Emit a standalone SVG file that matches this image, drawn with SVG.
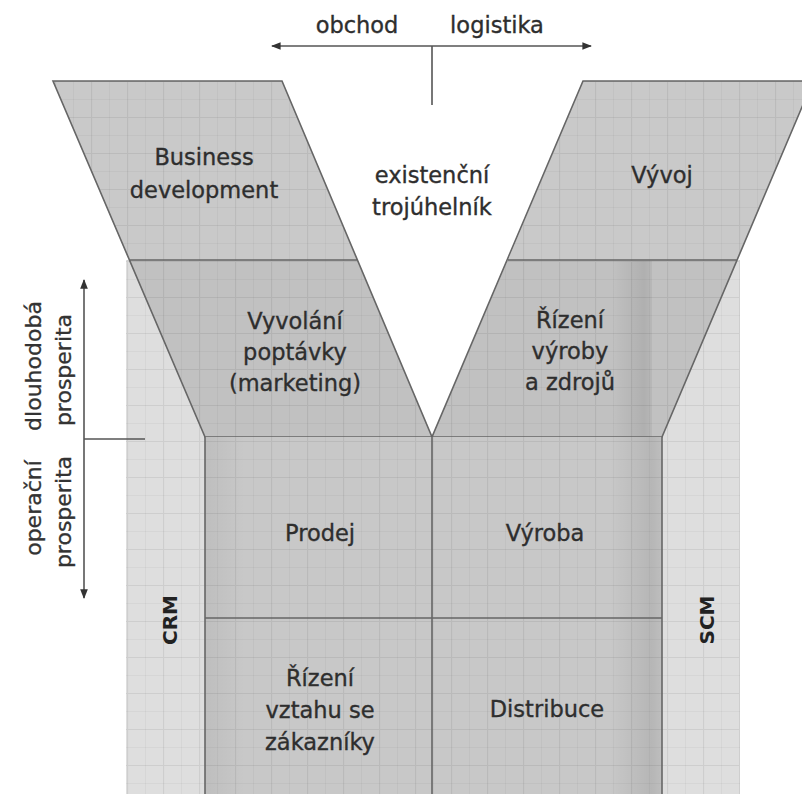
<svg xmlns="http://www.w3.org/2000/svg" width="802" height="794" viewBox="0 0 802 794">
  <defs>
    <style>
      .lbl { font-family: "DejaVu Sans", Verdana, sans-serif; font-size: 22.5px; fill: #2e2e2e; stroke: #2e2e2e; stroke-width: 0.35; text-anchor: middle; }
      .side { font-family: "DejaVu Sans", Verdana, sans-serif; font-size: 22px; fill: #333; stroke: #333; stroke-width: 0.3; text-anchor: middle; }
      .tag { font-family: "DejaVu Sans", Verdana, sans-serif; font-size: 20px; font-weight: bold; fill: #222; text-anchor: middle; }
      .edge { stroke: #666; stroke-width: 1.6; fill: none; }
      .band1 { fill: #c9c9c9; }
      .band2 { fill: #c1c1c1; }
      .cell { fill: #c8c8c8; }
      .conn { stroke: #555; stroke-width: 1.6; fill: none; }
    </style>
    <pattern id="grid" patternUnits="userSpaceOnUse" x="127" y="9" width="36" height="36">
      <path d="M0 0.5H36M0.5 0V36" stroke="#000" stroke-opacity="0.07" stroke-width="1.2" fill="none"/>
      <path d="M0 18.5H36M18.5 0V36" stroke="#000" stroke-opacity="0.035" stroke-width="1" fill="none"/>
    </pattern>
    <linearGradient id="shadeR" x1="0" y1="0" x2="1" y2="0">
      <stop offset="0" stop-color="#000" stop-opacity="0"/>
      <stop offset="0.8" stop-color="#000" stop-opacity="0.09"/>
      <stop offset="1" stop-color="#000" stop-opacity="0.05"/>
    </linearGradient>
    <linearGradient id="shadeL" x1="0" y1="0" x2="1" y2="0">
      <stop offset="0" stop-color="#000" stop-opacity="0.05"/>
      <stop offset="1" stop-color="#000" stop-opacity="0"/>
    </linearGradient>
    <marker id="tip" viewBox="0 0 10 10" refX="9" refY="5" markerWidth="6" markerHeight="6" orient="auto-start-reverse">
      <path d="M0 1L10 5L0 9z" fill="#333"/>
    </marker>
  </defs>

  <rect width="802" height="794" fill="#fff"/>

  <!-- light backdrop behind the lower part, leaving the V gap open -->
  <g id="backdrop">
    <path d="M126 260H357L432 437L508 260H740V794H126Z" fill="#dedede"/>
    <path d="M126 260H357L432 437L508 260H740V794H126Z" fill="url(#grid)"/>
  </g>

  <!-- left arm of the V -->
  <g id="business-development">
    <path class="band1" d="M53 81H282L357 260H129Z"/>
    <path d="M53 81H282L357 260H129Z" fill="url(#grid)"/>
    <text class="lbl" x="204" y="165">Business</text>
    <text class="lbl" x="204" y="198">development</text>
  </g>
  <g id="vyvolani-poptavky">
    <path class="band2" d="M129 260H357L432 437H205Z"/>
    <path d="M129 260H357L432 437H205Z" fill="url(#grid)"/>
    <text class="lbl" x="295" y="329">Vyvolání</text>
    <text class="lbl" x="295" y="360">poptávky</text>
    <text class="lbl" x="295" y="391">(marketing)</text>
  </g>
  <path class="edge" d="M53 81H282L432 437H205Z M129 260H357"/>

  <!-- right arm of the V (runs off the right border) -->
  <g id="vyvoj">
    <path class="band1" d="M583 81H813L737 260H508Z"/>
    <path d="M583 81H813L737 260H508Z" fill="url(#grid)"/>
    <text class="lbl" x="662" y="183">Vývoj</text>
  </g>
  <g id="rizeni-vyroby">
    <path class="band2" d="M508 260H737L662 437H432Z"/>
    <path d="M508 260H737L662 437H432Z" fill="url(#grid)"/>
    <rect x="612" y="261" width="40" height="176" fill="url(#shadeR)"/>
    <text class="lbl" x="570" y="328">Řízení</text>
    <text class="lbl" x="570" y="359">výroby</text>
    <text class="lbl" x="570" y="390">a zdrojů</text>
  </g>
  <path class="edge" d="M583 81H813L662 437H432Z M508 260H737"/>

  <text class="lbl" x="432" y="183">existenční</text>
  <text class="lbl" x="432" y="215">trojúhelník</text>

  <!-- lower block -->
  <g id="prodej">
    <rect class="cell" x="205" y="437" width="227" height="181"/>
    <rect x="205" y="437" width="227" height="181" fill="url(#grid)"/>
    <rect x="205" y="437" width="40" height="181" fill="url(#shadeL)"/>
    <text class="lbl" x="320" y="541">Prodej</text>
  </g>
  <g id="vyroba">
    <rect class="cell" x="432" y="437" width="230" height="181"/>
    <rect x="432" y="437" width="230" height="181" fill="url(#grid)"/>
    <rect x="610" y="437" width="52" height="181" fill="url(#shadeR)"/>
    <text class="lbl" x="545" y="541">Výroba</text>
  </g>
  <g id="rizeni-vztahu">
    <rect class="cell" x="205" y="618" width="227" height="180"/>
    <rect x="205" y="618" width="227" height="180" fill="url(#grid)"/>
    <rect x="205" y="618" width="40" height="180" fill="url(#shadeL)"/>
    <text class="lbl" x="320" y="686">Řízení</text>
    <text class="lbl" x="320" y="718">vztahu se</text>
    <text class="lbl" x="320" y="750">zákazníky</text>
  </g>
  <g id="distribuce">
    <rect class="cell" x="432" y="618" width="230" height="180"/>
    <rect x="432" y="618" width="230" height="180" fill="url(#grid)"/>
    <rect x="610" y="618" width="52" height="180" fill="url(#shadeR)"/>
    <text class="lbl" x="547" y="717">Distribuce</text>
  </g>
  <path class="edge" d="M205 437V798M662 437V798M432 437V798M205 618H662"/>

  <g id="crm">
    <text class="tag" transform="translate(177 620) rotate(-90)">CRM</text>
  </g>
  <g id="scm">
    <text class="tag" transform="translate(714 620) rotate(-90)">SCM</text>
  </g>

  <!-- axis captions -->
  <g id="obchod-logistika">
    <text class="lbl" x="357" y="33">obchod</text>
    <text class="lbl" x="497" y="33">logistika</text>
  </g>
  <g id="prosperita">
    <text class="side" transform="translate(41 366) rotate(-90)">dlouhodobá</text>
    <text class="side" transform="translate(71 370) rotate(-90)">prosperita</text>
    <text class="side" transform="translate(41 508) rotate(-90)">operační</text>
    <text class="side" transform="translate(71 512) rotate(-90)">prosperita</text>
  </g>

  <!-- connectors -->
  <g id="connectors">
    <path class="conn" d="M272 46H591" marker-start="url(#tip)" marker-end="url(#tip)"/>
    <path class="conn" d="M432 46V105"/>
    <path class="conn" d="M84 280V598" marker-start="url(#tip)" marker-end="url(#tip)"/>
    <path class="conn" d="M84 439H145"/>
  </g>
</svg>
